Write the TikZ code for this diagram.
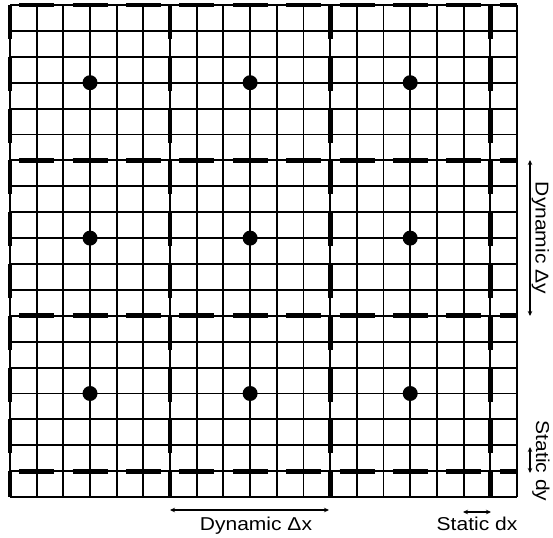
\documentclass[tikz,border=0pt]{standalone}
\usepackage{fontspec}
\setmainfont{Liberation Sans}
\usetikzlibrary{arrows.meta}
\begin{document}
\begin{tikzpicture}[x=1pt,y=-1pt,
  thinline/.style={line width=1.9pt, black},
  hdash/.style={line width=4.8pt, black, dash pattern=on 35pt off 18.4pt, dash phase=44.2pt},
  vdash/.style={line width=4.8pt, black, dash pattern=on 34pt off 17.8pt, dash phase=0pt},
  dot/.style={circle, fill=black, inner sep=0pt, minimum size=15pt},
  dimarrow/.style={line width=1.3pt, {Stealth[length=5pt,width=4.5pt]}-{Stealth[length=5pt,width=4.5pt]}},
  lbl/.style={inner sep=0pt, font=\fontsize{18.6}{22}\selectfont}]
\useasboundingbox (0,0) rectangle (553,537);
\fill[white] (0,0) rectangle (553,537);
% fine grid
\foreach \i in {0,...,19} {
  \draw[thinline] ({10+\i*26.68},5) -- ({10+\i*26.68},497);
  \draw[thinline] (10,{5+\i*25.9}) -- (517,{5+\i*25.9});
}
% thick dashed block boundaries
\foreach \i in {0,6,12,18} {
  \draw[vdash] ({10+\i*26.68},5) -- ({10+\i*26.68},497);
  \draw[hdash] (10,{5+\i*25.9}) -- (517,{5+\i*25.9});
}
% dots
\foreach \i in {3,9,15} {
  \foreach \j in {3,9,15} {
    \node[dot] (d\i-\j) at ({10+\i*26.68},{5+\j*25.9}) {};
  }
}
% dimension arrows
\coordinate (dxa) at (170,510); \coordinate (dxb) at (329,510);
\coordinate (sxa) at (463,512); \coordinate (sxb) at (491,512);
\coordinate (dya) at (530,160); \coordinate (dyb) at (530,316);
\coordinate (sya) at (530,447); \coordinate (syb) at (530,473);
\draw[dimarrow] (dxa) -- (dxb);
\draw[dimarrow] (sxa) -- (sxb);
\draw[dimarrow] (dya) -- (dyb);
\draw[dimarrow] (sya) -- (syb);
% labels
\node[lbl, anchor=base] (ldx) at (256,530) {\scalebox{1.13}[1]{Dynamic Δx}};
\node[lbl, anchor=base] (lsx) at (477,530) {\scalebox{1.13}[1]{Static dx}};
\node[lbl, anchor=base, rotate=-90] (ldy) at (535.5,238) {\scalebox{1.13}[1]{Dynamic Δy}};
\node[lbl, anchor=base, rotate=-90] (lsy) at (536,461) {\scalebox{1.13}[1]{Static dy}};
\end{tikzpicture}
\end{document}
